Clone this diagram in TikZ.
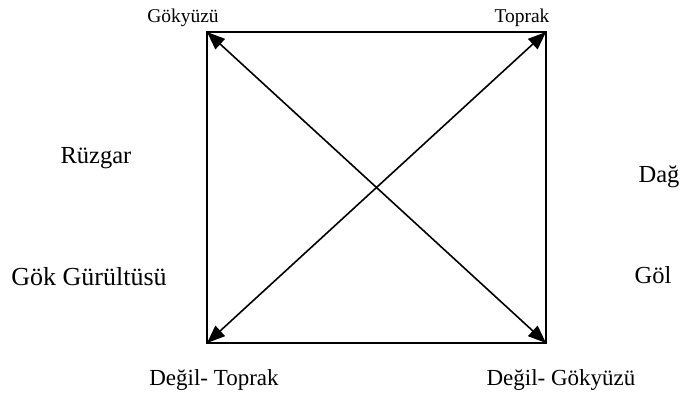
\documentclass[tikz,border=0pt]{standalone}
\usepackage{fontspec}
\setmainfont{Liberation Serif}
\usetikzlibrary{arrows.meta}
\begin{document}
\begin{tikzpicture}[x=1pt,y=-1pt,
  edge/.style={line width=1.8pt},
  diag/.style={line width=1.6pt,{Triangle[length=18pt,width=14pt]}-{Triangle[length=18pt,width=14pt]}},
  toplbl/.style={font=\fontsize{19.5}{22}\selectfont,inner sep=0pt},
  lbl/.style={font=\fontsize{24.5}{28}\selectfont,inner sep=0pt},
  botlbl/.style={font=\fontsize{23}{27}\selectfont,inner sep=0pt}]
\useasboundingbox (0,0) rectangle (681,396);
\coordinate (tl) at (207,32);
\coordinate (tr) at (546,32);
\coordinate (bl) at (207,343);
\coordinate (br) at (546,343);
\draw[edge,line join=miter] (tl) -- (tr) -- (br) -- (bl) -- cycle;
\draw[diag] (tl) -- (br);
\draw[diag] (bl) -- (tr);
\node[toplbl] (sky) at (183,18) {Gökyüzü};
\node[toplbl] (earth) at (522,18) {Toprak};
\node[lbl] (wind) at (96,158) {Rüzgar};
\node[lbl,font=\fontsize{26}{29}\selectfont] (thunder) at (89,277) {Gök Gürültüsü};
\node[lbl] (mountain) at (659,177) {Dağ};
\node[lbl] (lake) at (653,275) {Göl};
\node[botlbl] (notearth) at (214,380) {Değil- Toprak};
\node[botlbl] (notsky) at (561,380) {Değil- Gökyüzü};
\end{tikzpicture}
\end{document}
